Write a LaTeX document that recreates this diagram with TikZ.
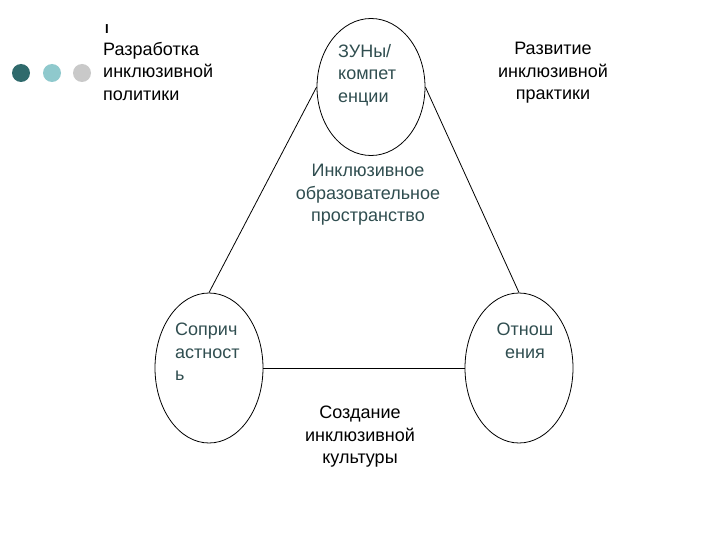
\documentclass[tikz,border=0pt]{standalone}
\usepackage{fontspec}
\setmainfont{Liberation Sans}
\usetikzlibrary{shapes.geometric}
\definecolor{dtext}{HTML}{304E50}
\definecolor{dotA}{HTML}{2F6A6C}
\definecolor{dotB}{HTML}{8FC9CD}
\definecolor{dotC}{HTML}{C9C9C9}
\begin{document}
\begin{tikzpicture}[x=1pt,y=-1pt,
  oval/.style={draw,ellipse,line width=0.8pt,inner sep=0pt},
  lbl/.style={font=\fontsize{18}{22.5}\selectfont,inner sep=0pt},
  link/.style={draw,line width=0.8pt}]
\useasboundingbox[fill=white] (0,0) rectangle (720,540);
% dots
\fill[dotA] (21,73) circle (9);
\fill[dotB] (52,73) circle (9);
\fill[dotC] (82,73) circle (9);
\node[font=\fontsize{13}{13}\selectfont\bfseries,inner sep=0pt] (mark) at (107,29) {I};
% ellipses
\node[oval,minimum width=108,minimum height=137] (top) at (371,87) {};
\node[oval,minimum width=108,minimum height=150] (left) at (209,368) {};
\node[oval,minimum width=108,minimum height=150] (right) at (519,368) {};
% connectors
\draw[link] (top.west) -- (left.north);
\draw[link] (top.east) -- (right.north);
\draw[link] (left.east) -- (right.west);
% texts
\node[lbl,align=left,anchor=north west] (pol) at (103,42) {Разработка\\инклюзивной\\политики};
\node[lbl,align=center,anchor=north] (prak) at (553,42) {Развитие\\инклюзивной\\практики};
\node[lbl,align=left,anchor=north west,text=dtext] (zun) at (338,44) {ЗУНы/\\компет\\енции};
\node[lbl,align=center,anchor=north,text=dtext] (space) at (368,164) {Инклюзивное\\образовательное\\пространство};
\node[lbl,align=left,anchor=north west,text=dtext] (sop) at (175,323) {Соприч\\астност\\ь};
\node[lbl,align=center,anchor=north,text=dtext] (otn) at (525,323) {Отнош\\ения};
\node[lbl,align=center,anchor=north] (cult) at (360,406) {Создание\\инклюзивной\\культуры};
\end{tikzpicture}
\end{document}
